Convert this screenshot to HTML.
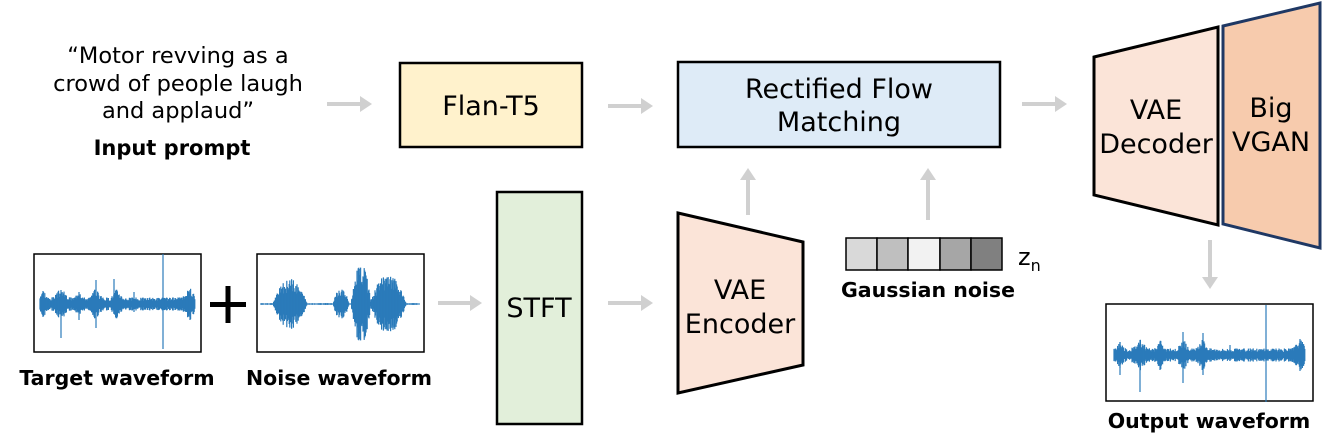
<!DOCTYPE html>
<html><head><style>
body{margin:0;background:#fff;}
svg{display:block;font-family:"DejaVu Sans","Liberation Sans",sans-serif;}
</style></head><body>
<svg id="s" width="1329" height="448" viewBox="0 0 1329 448">
<defs><marker id="a" markerWidth="4" markerHeight="4" refX="1" refY="2" orient="auto" markerUnits="strokeWidth"><path d="M0,0 L3,2 L0,4z" fill="#d0d0d0"/></marker></defs>
<g font-size="22.5" text-anchor="middle" fill="#000">
<text x="178" y="63">“Motor revving as a</text>
<text x="178" y="91">crowd of people laugh</text>
<text x="178" y="118">and applaud”</text>
<text x="172" y="155" font-weight="bold" font-size="21">Input prompt</text>
</g>
<g stroke="#d0d0d0" stroke-width="4" marker-end="url(#a)">
<line x1="327" y1="104" x2="364" y2="104"/>
<line x1="608" y1="106" x2="645" y2="106"/>
<line x1="1022" y1="104" x2="1059" y2="104"/>
<line x1="438" y1="303" x2="474" y2="303"/>
<line x1="608" y1="303" x2="645" y2="303"/>
<line x1="748" y1="215" x2="748" y2="176"/>
<line x1="928" y1="220" x2="928" y2="176"/>
<line x1="1210" y1="240" x2="1210" y2="281"/>
</g>
<rect x="400" y="63" width="182" height="84" fill="#fff2cc" stroke="#000" stroke-width="2.5"/>
<text x="491" y="115" font-size="27" text-anchor="middle">Flan-T5</text>
<rect x="678" y="62" width="322" height="85" fill="#deebf7" stroke="#000" stroke-width="2.5"/>
<text x="839" y="98" font-size="27" text-anchor="middle">Rectified Flow</text>
<text x="839" y="131" font-size="27" text-anchor="middle">Matching</text>
<rect x="497" y="192" width="85" height="232" fill="#e2efda" stroke="#000" stroke-width="2.5"/>
<text x="539" y="317" font-size="27" text-anchor="middle">STFT</text>
<polygon points="678,213 803,242 803,365 678,393" fill="#fbe4d8" stroke="#000" stroke-width="3"/>
<text x="740" y="299" font-size="27" text-anchor="middle">VAE</text>
<text x="740" y="333" font-size="27" text-anchor="middle">Encoder</text>
<polygon points="1094,57 1218,27 1218,225 1094,195" fill="#fbe4d8" stroke="#000" stroke-width="3"/>
<text x="1156" y="119" font-size="27" text-anchor="middle">VAE</text>
<text x="1156" y="153" font-size="27" text-anchor="middle">Decoder</text>
<polygon points="1223,26 1320,3 1320,248 1223,224" fill="#f7cbad" stroke="#1f3864" stroke-width="3"/>
<text x="1271" y="117" font-size="27" text-anchor="middle">Big</text>
<text x="1271" y="151" font-size="27" text-anchor="middle">VGAN</text>
<g stroke="#000" stroke-width="1.5">
<rect x="846" y="238" width="31" height="32" fill="#d9d9d9"/>
<rect x="877" y="238" width="31" height="32" fill="#bfbfbf"/>
<rect x="908" y="238" width="32" height="32" fill="#f2f2f2"/>
<rect x="940" y="238" width="31" height="32" fill="#a6a6a6"/>
<rect x="971" y="238" width="31" height="32" fill="#808080"/>
</g>
<text x="1018" y="265" font-size="24">z<tspan font-size="16" dy="6">n</tspan></text>
<text x="928" y="297" font-size="20.5" font-weight="bold" text-anchor="middle">Gaussian noise</text>
<rect x="34" y="254" width="167" height="98" fill="#fff" stroke="#000" stroke-width="1.5"/>
<rect x="257" y="254" width="167" height="98" fill="#fff" stroke="#000" stroke-width="1.5"/>
<rect x="1106" y="304" width="207" height="97" fill="#fff" stroke="#000" stroke-width="1.5"/>
<g id="w" stroke="#2b7bba" stroke-width="1.2"></g>
<rect x="210" y="302" width="36" height="5" fill="#000"/>
<rect x="225.5" y="286" width="5" height="37" fill="#000"/>
<text x="117" y="385" font-size="20.5" font-weight="bold" text-anchor="middle">Target waveform</text>
<text x="339" y="385" font-size="20.5" font-weight="bold" text-anchor="middle">Noise waveform</text>
<text x="1209" y="428" font-size="20.5" font-weight="bold" text-anchor="middle">Output waveform</text>
</svg>
<script>
var g=document.getElementById('w'),h='';
var seed=3;function r(){seed=(seed*9301+49297)%233280;return seed/233280;}
function wave(x0,x1,cy,amp,spikes,env){
 for(var x=x0;x<=x1;x+=0.6){
  var a=amp*(0.6+0.8*r());
  if(env)a=env(x)*(0.5+0.6*r());
  h+='<line x1="'+x.toFixed(1)+'" y1="'+(cy-a).toFixed(1)+'" x2="'+x.toFixed(1)+'" y2="'+(cy+a).toFixed(1)+'"/>';
 }
 spikes.forEach(function(s){h+='<line x1="'+s[0]+'" y1="'+(cy-s[1])+'" x2="'+s[0]+'" y2="'+(cy+s[2])+'"/>';});
}
function blob(c,w,amp){return function(x){return amp*Math.max(0,1-Math.pow((x-c)/w,2));};}
wave(40,195,304,0,[[61,14,34],[43,8,12],[79,12,16],[96,24,24],[114,25,10],[134,12,8],[163,50,45],[190,14,16]],function(x){
 var b=6; [[43,3],[61,5],[79,3],[96,4],[117,4],[190,5]].forEach(function(p){b+=8*Math.exp(-Math.pow((x-p[0])/p[1],2));});return b;});
wave(1114,1305,355,0,[[1120,13,20],[1140,15,37],[1160,13,15],[1183,23,28],[1203,22,20],[1230,10,6],[1266,50,47],[1300,16,16]],function(x){
 var b=6; [[1120,3],[1140,5],[1160,3],[1183,4],[1203,4],[1300,5]].forEach(function(p){b+=8*Math.exp(-Math.pow((x-p[0])/p[1],2));});return b;});
wave(261,420,304,0,[],function(x){
 var e=0.8;
 e+=blob(290,17,22)(x);
 e+=blob(341,8,14)(x);
 e+=blob(361,10,36)(x);
 e+=blob(388,18,26)(x);
 return e;});
g.innerHTML=h;
</script>
</body></html>
